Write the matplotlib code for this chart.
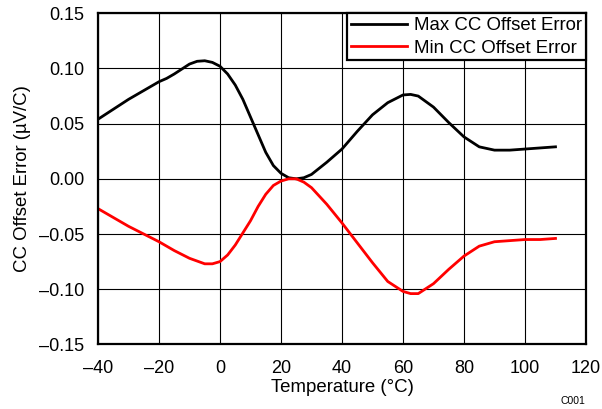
import matplotlib
matplotlib.use("Agg")
import matplotlib.pyplot as plt

plt.rcParams['font.family'] = ['Liberation Sans', 'DejaVu Sans']

temp_max = [-40, -35, -30, -25, -20, -17.5, -15, -12.5, -10, -7.5, -5, -2.5, 0, 2.5, 5,
            7.5, 10, 12.5, 15, 17.5, 20, 22.5, 25, 27.5, 30, 35, 40, 45, 50, 55, 60,
            62.5, 65, 70, 75, 80, 85, 90, 95, 100, 105, 110]
max_err = [0.054, 0.063, 0.072, 0.080, 0.088, 0.091, 0.095, 0.0995, 0.104, 0.1065, 0.107,
           0.1055, 0.102, 0.095, 0.085, 0.072, 0.056, 0.040, 0.024, 0.012, 0.005, 0.001,
           0.000, 0.001, 0.004, 0.015, 0.027, 0.043, 0.058, 0.069, 0.076, 0.0765, 0.075,
           0.065, 0.051, 0.038, 0.029, 0.026, 0.026, 0.027, 0.028, 0.029]

temp_min = [-40, -35, -30, -25, -20, -15, -10, -5, -2.5, 0, 2.5, 5, 7.5, 10, 12.5, 15,
            17.5, 20, 22.5, 25, 27.5, 30, 35, 40, 45, 50, 55, 60, 62.5, 65, 70, 75, 80,
            85, 90, 95, 100, 105, 110]
min_err = [-0.027, -0.035, -0.043, -0.050, -0.057, -0.065, -0.072, -0.077, -0.077, -0.075,
           -0.069, -0.060, -0.049, -0.038, -0.025, -0.014, -0.006, -0.002, 0.000, 0.000,
           -0.003, -0.008, -0.023, -0.040, -0.058, -0.076, -0.093, -0.102, -0.104, -0.104,
           -0.095, -0.082, -0.070, -0.061, -0.057, -0.056, -0.055, -0.055, -0.054]

xticks = [-40, -20, 0, 20, 40, 60, 80, 100, 120]
yticks = [-0.15, -0.10, -0.05, 0.00, 0.05, 0.10, 0.15]

fig = plt.figure(figsize=(6.02, 4.09), dpi=100)
ax = fig.add_axes([0.1628, 0.158, 0.8106, 0.8095])

ax.plot(temp_max, max_err, color='black', lw=2, label='Max CC Offset Error',
        solid_joinstyle='round')
ax.plot(temp_min, min_err, color='#ff0000', lw=2, label='Min CC Offset Error',
        solid_joinstyle='round')

ax.set_xlim(-40, 120)
ax.set_ylim(-0.15, 0.15)
ax.set_xticks(xticks)
ax.set_yticks(yticks)
ax.set_xticklabels([str(t).replace('-', '\u2013') for t in xticks])
ax.set_yticklabels([f"{v:.2f}".replace('-', '\u2013') for v in yticks])
ax.grid(True, color='black', lw=0.8)
ax.set_axisbelow(True)
ax.tick_params(length=0, labelsize=13, colors='black')
ax.tick_params(axis='x', pad=11.5)
ax.tick_params(axis='y', pad=10)
for s in ax.spines.values():
    s.set_linewidth(1.6)
    s.set_color('black')

ax.set_xlabel('Temperature (°C)', fontsize=13.4, labelpad=1)
ax.set_ylabel('CC Offset Error (µV/C)', fontsize=13.4, labelpad=6)

leg = ax.legend(loc='upper right', fontsize=13.4, frameon=True, fancybox=False,
                borderaxespad=0, handlelength=3.0, handletextpad=0.4,
                borderpad=0.2, labelspacing=0.3)
leg.get_frame().set_edgecolor('black')
leg.get_frame().set_linewidth(1.6)
leg.get_frame().set_alpha(1)

fig.text(0.973, 0.008, 'C001', fontsize=7.5, ha='right', va='bottom')

fig.savefig('out.png', dpi=100)
